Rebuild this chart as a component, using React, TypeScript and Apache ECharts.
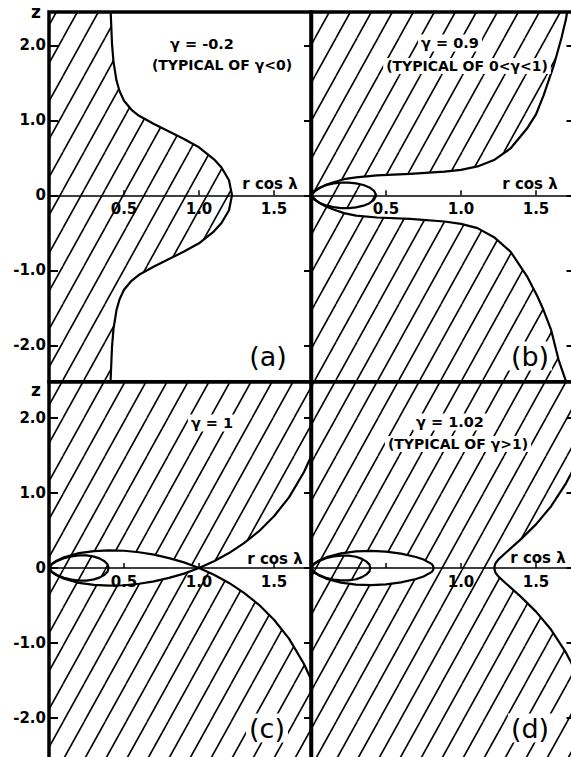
import React, { useEffect, useRef } from 'react';
import * as echarts from 'echarts';

type P = [number, number];

// ---- tick values / labels ----
const zTickValues = [-2, -1, 0, 1, 2];
const zTickLabels = ['-2.0', '-1.0', '0', '1.0', '2.0'];
const xTickValues = [0.5, 1.0, 1.5];
const xTickLabels = ['0.5', '1.0', '1.5'];
const xLabelValuesD = [1.0, 1.5];

// ---- panel (a): gamma = -0.2 ----
const aBoundary: P[] = [
  [0.405, 2.6], [0.41, 2.5], [0.42, 2.02], [0.43, 1.78], [0.45, 1.53], [0.47, 1.39], [0.5, 1.26],
  [0.55, 1.14], [0.6, 1.06], [0.7, 0.95], [0.8, 0.85], [0.9, 0.75], [1.0, 0.64], [1.1, 0.48],
  [1.15, 0.37], [1.2, 0.2], [1.22, 0], [1.2, -0.2], [1.15, -0.37], [1.1, -0.48], [1.0, -0.64],
  [0.9, -0.75], [0.8, -0.85], [0.7, -0.95], [0.6, -1.06], [0.55, -1.14], [0.5, -1.26], [0.47, -1.39],
  [0.45, -1.53], [0.43, -1.78], [0.42, -2.02], [0.41, -2.5], [0.405, -2.6],
];

// ---- panel (b): gamma = 0.9 ----
const bUpper: P[] = [
  [0, 0], [0.03, 0.06], [0.06, 0.1], [0.1, 0.14], [0.15, 0.175], [0.22, 0.215], [0.3, 0.24],
  [0.44, 0.265], [0.66, 0.285], [0.89, 0.315], [1.0, 0.34], [1.11, 0.385], [1.22, 0.47],
  [1.33, 0.625], [1.44, 0.89], [1.5, 1.08], [1.55, 1.33], [1.62, 1.74], [1.67, 2.1], [1.7, 2.35], [1.72, 2.6],
];
const bLower: P[] = [
  [0, 0], [0.03, -0.06], [0.06, -0.105], [0.1, -0.15], [0.15, -0.19], [0.22, -0.237], [0.3, -0.27],
  [0.44, -0.296], [0.66, -0.313], [0.89, -0.349], [1.0, -0.38], [1.11, -0.437], [1.22, -0.558],
  [1.33, -0.75], [1.44, -1.08], [1.51, -1.35], [1.55, -1.53], [1.6, -1.79], [1.65, -2.19], [1.7, -2.48], [1.71, -2.6],
];
const bLoop: P[] = [
  [0, 0], [0.02, 0.055], [0.05, 0.095], [0.1, 0.135], [0.15, 0.158], [0.2, 0.17], [0.25, 0.17],
  [0.3, 0.16], [0.35, 0.138], [0.39, 0.105], [0.42, 0.06], [0.435, 0], [0.42, -0.06], [0.39, -0.105],
  [0.35, -0.138], [0.3, -0.16], [0.25, -0.17], [0.2, -0.17], [0.15, -0.158], [0.1, -0.135],
  [0.05, -0.095], [0.02, -0.055], [0, 0],
];

// ---- panel (c): gamma = 1 ----
const cLensTop: P[] = [
  [0, 0], [0.02, 0.058], [0.05, 0.097], [0.1, 0.142], [0.2, 0.198], [0.3, 0.226], [0.4, 0.235],
  [0.5, 0.23], [0.6, 0.21], [0.7, 0.179], [0.8, 0.131], [0.9, 0.075], [1.0, 0],
];
const cLensBottom: P[] = [
  [0, 0], [0.02, -0.058], [0.05, -0.097], [0.1, -0.142], [0.2, -0.198], [0.3, -0.226], [0.4, -0.235],
  [0.5, -0.23], [0.6, -0.21], [0.7, -0.179], [0.8, -0.131], [0.9, -0.075], [1.0, 0],
];
const cRightUp: P[] = [
  [1.0, 0], [1.1, 0.089], [1.2, 0.199], [1.3, 0.331], [1.4, 0.491], [1.5, 0.69], [1.6, 0.942],
  [1.7, 1.28], [1.75, 1.5], [1.8, 1.78],
];
const cRightDown: P[] = [
  [1.0, 0], [1.1, -0.089], [1.2, -0.199], [1.3, -0.331], [1.4, -0.491], [1.5, -0.69], [1.6, -0.942],
  [1.7, -1.28], [1.75, -1.5], [1.8, -1.78],
];
const cLoop: P[] = [
  [0, 0], [0.02, 0.052], [0.05, 0.09], [0.1, 0.13], [0.15, 0.155], [0.2, 0.168], [0.25, 0.168],
  [0.3, 0.152], [0.34, 0.125], [0.37, 0.09], [0.39, 0.05], [0.398, 0], [0.39, -0.05], [0.37, -0.09],
  [0.34, -0.125], [0.3, -0.152], [0.25, -0.168], [0.2, -0.168], [0.15, -0.155], [0.1, -0.13],
  [0.05, -0.09], [0.02, -0.052], [0, 0],
];

// ---- panel (d): gamma = 1.02 ----
const dLensTop: P[] = [
  [0, 0], [0.02, 0.057], [0.05, 0.096], [0.1, 0.141], [0.2, 0.195], [0.3, 0.221], [0.4, 0.228],
  [0.5, 0.218], [0.6, 0.192], [0.7, 0.146], [0.75, 0.113], [0.8, 0.058], [0.81, 0.041], [0.819, 0],
];
const dLensBottom: P[] = [
  [0, 0], [0.02, -0.057], [0.05, -0.096], [0.1, -0.141], [0.2, -0.195], [0.3, -0.221], [0.4, -0.228],
  [0.5, -0.218], [0.6, -0.192], [0.7, -0.146], [0.75, -0.113], [0.8, -0.058], [0.81, -0.041], [0.819, 0],
];
const dRightUp: P[] = [
  [1.221, 0], [1.23, 0.064], [1.25, 0.115], [1.3, 0.207], [1.4, 0.385], [1.5, 0.582], [1.6, 0.821],
  [1.7, 1.129], [1.75, 1.322], [1.8, 1.56],
];
const dRightDown: P[] = [
  [1.221, 0], [1.23, -0.064], [1.25, -0.115], [1.3, -0.207], [1.4, -0.385], [1.5, -0.582], [1.6, -0.821],
  [1.7, -1.129], [1.75, -1.322], [1.8, -1.56],
];
const dLoop: P[] = [
  [0, 0], [0.02, 0.052], [0.05, 0.09], [0.1, 0.13], [0.15, 0.153], [0.2, 0.165], [0.25, 0.164],
  [0.3, 0.15], [0.34, 0.122], [0.37, 0.085], [0.39, 0.045], [0.395, 0], [0.39, -0.045], [0.37, -0.085],
  [0.34, -0.122], [0.3, -0.15], [0.25, -0.164], [0.2, -0.165], [0.15, -0.153], [0.1, -0.13],
  [0.05, -0.09], [0.02, -0.052], [0, 0],
];

// ---- hatched (forbidden) regions, assembled from the boundary lists ----
const TOP = 3, BOT = -3, LEFT = -0.1;
const regionsA: P[][] = [[[LEFT, TOP], ...aBoundary, [LEFT, BOT]]];
const regionsB: P[][] = [
  [[LEFT, 0], ...bUpper, [1.72, TOP], [LEFT, TOP]],
  [[LEFT, 0], ...bLower, [1.71, BOT], [LEFT, BOT]],
  bLoop,
];
const regionsC: P[][] = [
  [[LEFT, 0], ...cLensTop, ...cRightUp, [1.8, TOP], [LEFT, TOP]],
  [[LEFT, 0], ...cLensBottom, ...cRightDown, [1.8, BOT], [LEFT, BOT]],
  cLoop,
];
const regionsD: P[][] = [
  [[LEFT, 0], ...dLensTop, ...dRightUp, [1.8, TOP], [LEFT, TOP]],
  [[LEFT, 0], ...dLensBottom, ...dRightDown, [1.8, BOT], [LEFT, BOT]],
  dLoop,
];

const FONT = 'DejaVu Sans';

function makeHatch() {
  const W = 21, H = 38;
  const svg =
    `<svg xmlns='http://www.w3.org/2000/svg' width='${W}' height='${H}'>` +
    `<g stroke='black' stroke-width='1.6'>` +
    `<line x1='0' y1='${H}' x2='${W}' y2='0'/>` +
    `<line x1='${-W}' y1='${H}' x2='0' y2='0'/>` +
    `<line x1='${W}' y1='${H}' x2='${2 * W}' y2='0'/>` +
    `</g></svg>`;
  return {
    image: 'data:image/svg+xml;charset=utf-8,' + encodeURIComponent(svg),
    repeat: 'repeat',
    imageWidth: W,
    imageHeight: H,
  };
}

export default function App() {
  const ref = useRef<HTMLDivElement>(null);

  useEffect(() => {
    if (!ref.current) return;
    const chart = echarts.init(ref.current, undefined, { renderer: 'svg' });
    const hatch = makeHatch();

    const topZ = { min: -2.485, max: 2.444 };
    const botZ = { min: -2.56, max: 2.484 };
    const PX_PER_Z = 75;

    const gridDefs = [
      { left: 49, top: 12, width: 262.5, height: 369.7, z: topZ },
      { left: 311, top: 12, width: 262.5, height: 369.7, z: topZ },
      { left: 49, top: 381.7, width: 262.5, height: 378.3, z: botZ },
      { left: 311, top: 381.7, width: 262.5, height: 378.3, z: botZ },
    ];
    const grids = gridDefs.map((g) => ({
      left: g.left,
      top: g.top,
      width: g.width,
      height: g.height,
      show: true,
      borderColor: '#000',
      borderWidth: 3.5,
      backgroundColor: 'transparent',
      containLabel: false,
      outerBoundsMode: 'none',
    }));

    const xLabelFmt = (v: number) => {
      const i = xTickValues.findIndex((t) => Math.abs(t - v) < 1e-6);
      return i >= 0 ? xTickLabels[i] : '';
    };
    const zLabelFmt = (v: number) => {
      const i = zTickValues.findIndex((t) => Math.abs(t - v) < 1e-6);
      return i >= 0 ? zTickLabels[i] : '';
    };

    // x axis drawn along z = 0: shift it up from the grid bottom by |zmin| * px-per-unit
    const xAxis = [0, 1, 2, 3].map((g) => ({
      type: 'value',
      gridIndex: g,
      position: 'bottom',
      offset: gridDefs[g].z.min * PX_PER_Z,
      min: 0,
      max: 1.75,
      z: 5,
      axisLine: { show: true, onZero: false, lineStyle: { color: '#000', width: 1.5 } },
      axisTick: { show: true, inside: true, length: 5, customValues: xTickValues, lineStyle: { color: '#000', width: 1.5 } },
      axisLabel: {
        show: true,
        customValues: g === 3 ? xLabelValuesD : xTickValues,
        formatter: xLabelFmt,
        margin: 6,
        color: '#000',
        fontFamily: FONT,
        fontSize: 15,
        fontWeight: 'bold',
      },
      splitLine: { show: false },
    }));

    const leftY = (g: number, ext: { min: number; max: number }) => ({
      type: 'value',
      gridIndex: g,
      ...ext,
      z: 5,
      axisLine: { show: false },
      axisTick: { show: true, inside: true, length: 9, customValues: zTickValues, lineStyle: { color: '#000', width: 2 } },
      axisLabel: {
        show: true,
        customValues: zTickValues,
        formatter: zLabelFmt,
        margin: 3,
        color: '#000',
        fontFamily: FONT,
        fontSize: 15,
        fontWeight: 'bold',
      },
      splitLine: { show: false },
    });
    const plainY = (g: number, ext: { min: number; max: number }, pos: string, inside: boolean) => ({
      type: 'value',
      gridIndex: g,
      position: pos,
      ...ext,
      z: 5,
      axisLine: { show: false },
      axisTick: { show: true, inside, length: 7, customValues: zTickValues, lineStyle: { color: '#000', width: 2 } },
      axisLabel: { show: false },
      splitLine: { show: false },
    });

    const yAxis = [
      leftY(0, topZ), // 0
      plainY(1, topZ, 'left', false), // 1
      plainY(1, topZ, 'right', true), // 2
      leftY(2, botZ), // 3
      plainY(3, botZ, 'left', false), // 4
      plainY(3, botZ, 'right', true), // 5
    ];
    const yIdx = [0, 1, 3, 4];

    const regionSeries = (g: number, polys: P[][]) => ({
      type: 'custom',
      xAxisIndex: g,
      yAxisIndex: yIdx[g],
      clip: true,
      silent: true,
      z: 1,
      data: polys.map(() => [0.5, 0]),
      renderItem: (params: any, api: any) => {
        const poly = polys[params.dataIndex];
        return {
          type: 'polygon',
          shape: { points: poly.map((p) => api.coord(p)) },
          style: { fill: hatch, stroke: null },
        };
      },
    });

    const curve = (g: number, data: P[]) => ({
      type: 'line',
      xAxisIndex: g,
      yAxisIndex: yIdx[g],
      data,
      symbol: 'none',
      showSymbol: false,
      silent: true,
      clip: true,
      z: 4,
      lineStyle: { color: '#000', width: 2.2 },
    });

    const series = [
      regionSeries(0, regionsA),
      regionSeries(1, regionsB),
      regionSeries(2, regionsC),
      regionSeries(3, regionsD),
      curve(0, aBoundary),
      curve(1, bUpper),
      curve(1, bLower),
      curve(1, bLoop),
      curve(2, cLensTop),
      curve(2, cLensBottom),
      curve(2, cRightUp),
      curve(2, cRightDown),
      curve(2, cLoop),
      curve(3, dLensTop),
      curve(3, dLensBottom),
      curve(3, dRightUp),
      curve(3, dRightDown),
      curve(3, dLoop),
    ];

    const txt = (text: string, x: number, y: number, size: number, weight: string, bg: boolean) => ({
      type: 'text',
      x,
      y,
      z: 20,
      style: {
        text,
        x: 0,
        y: 0,
        align: 'center',
        verticalAlign: 'middle',
        fontFamily: FONT,
        fontSize: size,
        fontWeight: weight,
        fill: '#000',
        backgroundColor: bg ? '#fff' : 'transparent',
        padding: bg ? [1, 3] : 0,
      },
    });

    const graphic = [
      txt('γ = -0.2', 202, 44, 14.5, 'bold', true),
      txt('(TYPICAL OF γ<0)', 222, 65, 14, 'bold', true),
      txt('γ = 0.9', 450, 43, 14.5, 'bold', true),
      txt('(TYPICAL OF 0<γ<1)', 467, 66, 14, 'bold', true),
      txt('γ = 1', 212, 423, 14.5, 'bold', true),
      txt('γ = 1.02', 450, 422, 14.5, 'bold', true),
      txt('(TYPICAL OF γ>1)', 458, 444, 14, 'bold', true),
      txt('(a)', 268, 356, 27, 'normal', true),
      txt('(b)', 530, 356, 27, 'normal', true),
      txt('(c)', 267, 728, 27, 'normal', true),
      txt('(d)', 530, 728, 27, 'normal', true),
      txt('r cos λ', 270, 184, 15, 'bold', false),
      txt('r cos λ', 530, 184, 15, 'bold', false),
      txt('r cos λ', 275, 559, 15, 'bold', false),
      txt('r cos λ', 538, 558, 15, 'bold', false),
      txt('z', 36, 12, 17, 'bold', false),
      txt('z', 36, 390, 17, 'bold', false),
    ];

    chart.setOption({
      animation: false,
      backgroundColor: '#fff',
      grid: grids,
      xAxis,
      yAxis,
      series,
      graphic,
    } as any);

    return () => chart.dispose();
  }, []);

  return (
    <div
      ref={ref}
      style={{ position: 'absolute', left: 0, top: 0, width: 571, height: 757, background: '#fff' }}
    />
  );
}
